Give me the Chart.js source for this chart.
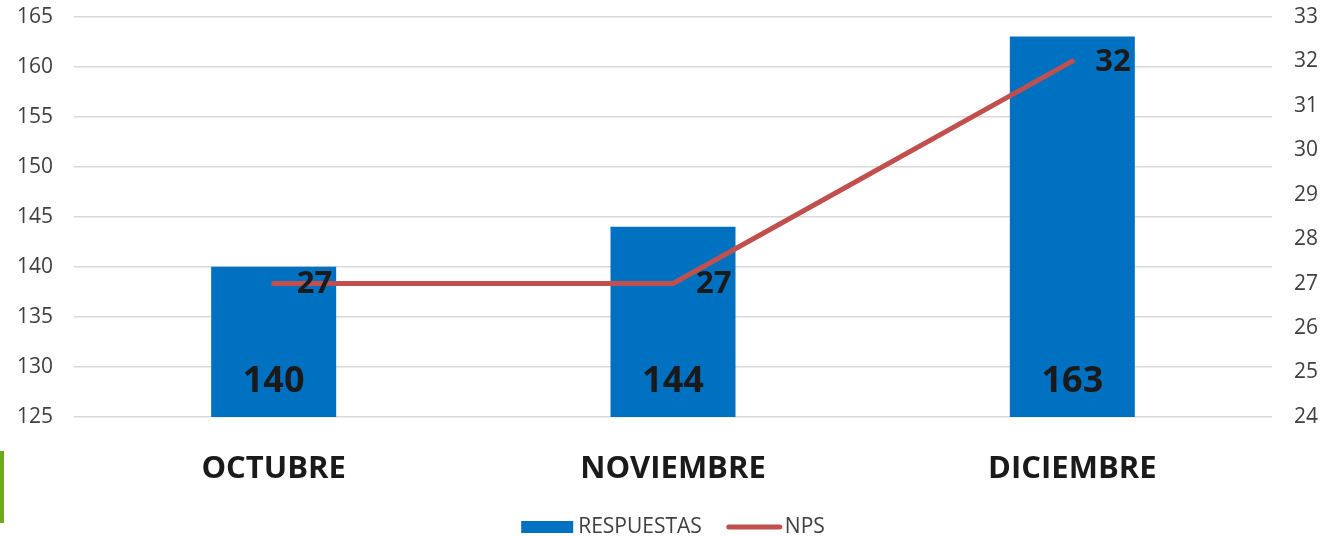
<!DOCTYPE html>
<html>
<head>
<meta charset="utf-8">
<script src="https://cdn.jsdelivr.net/npm/chart.js@4.4.1/dist/chart.umd.min.js"></script>
<style>
  html, body { margin: 0; padding: 0; background: #ffffff; }
  #wrap { position: relative; width: 1322px; height: 536px; }
  canvas { display: block; }
</style>
</head>
<body>
<div id="wrap"><canvas id="c" width="1322" height="536"></canvas></div>
<script>
// ---- data ----
const categories = ['OCTUBRE', 'NOVIEMBRE', 'DICIEMBRE'];
const respuestas = [140, 144, 163];
const nps = [27, 27, 32];
const leftTicks = { min: 125, max: 165, step: 5 };
const rightTicks = { min: 24, max: 33, step: 1 };
const seriesNames = ['RESPUESTAS', 'NPS'];

const BLUE = '#0070C0';
const RED = '#C0504D';
const FONT = "'Open Sans', 'DejaVu Sans', sans-serif";

const decorPlugin = {
  id: 'decor',
  afterDatasetsDraw(chart) {
    const ctx = chart.ctx;
    ctx.save();
    ctx.fillStyle = '#1a1a1a';
    // bar labels (dataset 1 = bars)
    const barMeta = chart.getDatasetMeta(1);
    const yScale = chart.scales.y;
    const basePx = yScale.getPixelForValue(yScale.min);
    ctx.font = "bold 36px " + FONT;
    ctx.textAlign = 'center';
    ctx.textBaseline = 'middle';
    barMeta.data.forEach((el, i) => {
      ctx.fillText(String(respuestas[i]), el.x, basePx - 35);
    });
    // line labels (dataset 0 = line)
    const lineMeta = chart.getDatasetMeta(0);
    ctx.font = "bold 31px " + FONT;
    ctx.textAlign = 'left';
    lineMeta.data.forEach((el, i) => {
      ctx.fillText(String(nps[i]), el.x + 23, el.y + 1);
    });
    ctx.restore();
  },
  afterDraw(chart) {
    const ctx = chart.ctx;
    const area = chart.chartArea;
    ctx.save();
    // green decoration at left edge
    ctx.fillStyle = '#6BAA1A';
    ctx.fillRect(0, 451, 4, 72);
    // legend
    ctx.font = "21px " + FONT;
    ctx.textBaseline = 'middle';
    ctx.textAlign = 'left';
    const w1 = ctx.measureText(seriesNames[0]).width;
    const w2 = ctx.measureText(seriesNames[1]).width;
    const boxW = 52, gap1 = 5, gap2 = 25, lineW = 55, gap3 = 3;
    const total = boxW + gap1 + w1 + gap2 + lineW + gap3 + w2;
    const cx = (area.left + area.right) / 2;
    let x = cx - total / 2;
    const y = 527;
    ctx.fillStyle = BLUE;
    ctx.fillRect(x, y - 6, boxW, 12);
    x += boxW + gap1;
    ctx.fillStyle = '#404040';
    ctx.fillText(seriesNames[0], x, y);
    x += w1 + gap2;
    ctx.strokeStyle = RED;
    ctx.lineWidth = 5;
    ctx.lineCap = 'round';
    ctx.beginPath();
    ctx.moveTo(x + 2, y);
    ctx.lineTo(x + lineW - 2, y);
    ctx.stroke();
    x += lineW + gap3;
    ctx.fillStyle = '#404040';
    ctx.fillText(seriesNames[1], x, y);
    ctx.restore();
  }
};

new Chart(document.getElementById('c'), {
  data: {
    labels: categories,
    datasets: [
      {
        type: 'line',
        label: seriesNames[1],
        data: nps,
        yAxisID: 'y1',
        borderColor: RED,
        backgroundColor: RED,
        borderWidth: 5,
        borderCapStyle: 'round',
        borderJoinStyle: 'round',
        pointRadius: 0,
        tension: 0,
        order: 0
      },
      {
        type: 'bar',
        label: seriesNames[0],
        data: respuestas,
        yAxisID: 'y',
        backgroundColor: BLUE,
        borderWidth: 0,
        barPercentage: 1,
        categoryPercentage: 0.313,
        order: 1
      }
    ]
  },
  options: {
    responsive: false,
    animation: false,
    devicePixelRatio: 1,
    layout: { padding: { top: 0, bottom: 0, left: 0, right: 0 } },
    plugins: { legend: { display: false }, tooltip: { enabled: false } },
    scales: {
      x: {
        offset: true,
        grid: { display: false },
        border: { display: false },
        ticks: {
          color: '#1a1a1a',
          font: { family: FONT, size: 31, weight: 'bold' },
          padding: 26,
          maxRotation: 0
        },
        afterFit(s) { s.height = 119; }
      },
      y: {
        position: 'left',
        min: leftTicks.min,
        max: leftTicks.max,
        ticks: {
          stepSize: leftTicks.step,
          color: '#404040',
          font: { family: FONT, size: 21 },
          padding: 4
        },
        grid: { color: '#d9d9d9', lineWidth: 1.5, drawTicks: true, tickLength: 17, tickColor: 'rgba(0,0,0,0)' },
        border: { display: false },
        afterFit(s) { s.width = 74; }
      },
      y1: {
        position: 'right',
        min: rightTicks.min,
        max: rightTicks.max,
        ticks: {
          stepSize: rightTicks.step,
          color: '#404040',
          font: { family: FONT, size: 21 },
          padding: 4
        },
        grid: { display: true, drawOnChartArea: false, color: 'rgba(0,0,0,0)', drawTicks: true, tickLength: 18, tickColor: 'rgba(0,0,0,0)' },
        border: { display: false },
        afterFit(s) { s.width = 50; }
      }
    }
  },
  plugins: [decorPlugin]
});
</script>
</body>
</html>
